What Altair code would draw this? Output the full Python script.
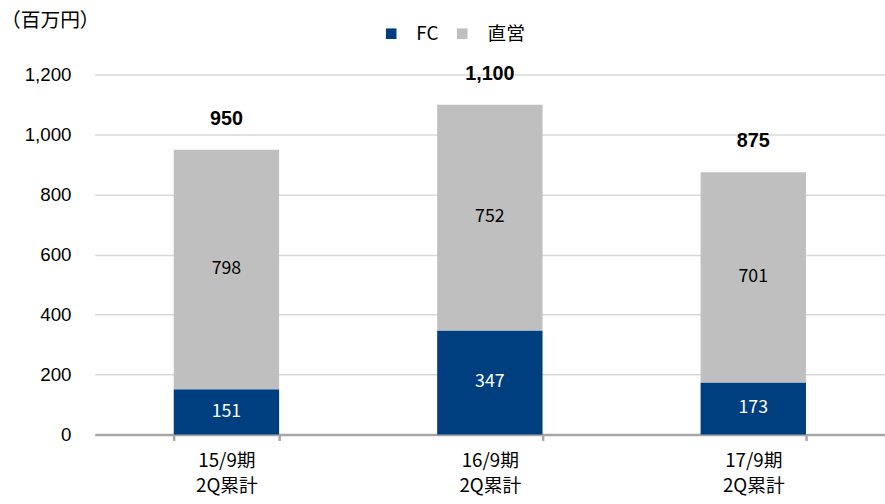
import altair as alt
import pandas as pd

# Half-year cumulative sales by period (millions of yen)
periods = ["15/9期\n2Q累計", "16/9期\n2Q累計", "17/9期\n2Q累計"]
fc_values = [151, 347, 173]
direct_values = [798, 752, 701]
totals = [950, 1100, 875]
series = ["FC", "直営"]
colors = ["#003F7F", "#BFBFBF"]
y_ticks = [0, 200, 400, 600, 800, 1000, 1200]
unit_label = ["（百万円）"]

rows = []
for p, a, b in zip(periods, fc_values, direct_values):
    rows.append({"period": p, "series": series[0], "value": a, "order": 0})
    rows.append({"period": p, "series": series[1], "value": b, "order": 1})
df = pd.DataFrame(rows)
tot = pd.DataFrame({"period": periods, "total": totals})

JP = "Noto Sans CJK JP"
NUM = "Liberation Sans"

x = alt.X(
    "period:N",
    sort=periods,
    title=None,
    scale=alt.Scale(paddingInner=0.6, paddingOuter=0.3),
    axis=alt.Axis(
        labelExpr="isValid(datum.value) ? split(datum.value, '\\n') : ''",
        labelAngle=0,
        labelFont=JP,
        labelFontSize=19,
        labelLineHeight=26,
        labelColor="#000000",
        labelPadding=11,
        domainColor="#A6A6A6",
        domainWidth=2.5,
        tickBand="extent",
        tickColor="#A6A6A6",
        tickWidth=2.5,
        tickSize=6,
    ),
)

base = alt.Chart(df).transform_stack(
    stack="value", groupby=["period"], as_=["v0", "v1"],
    sort=[alt.SortField("order", order="ascending")],
).transform_calculate(mid="(datum.v0 + datum.v1) / 2")

bars = base.mark_bar().encode(
    x=x,
    y=alt.Y(
        "v0:Q",
        title=None,
        scale=alt.Scale(domain=[0, 1200], nice=False),
        axis=alt.Axis(
            values=y_ticks,
            format=",d",
            domain=False,
            ticks=False,
            labelFont=NUM,
            labelFontSize=19,
            labelColor="#000000",
            labelPadding=24,
            gridColor="#D9D9D9",
            gridWidth=1.5,
        ),
    ),
    y2="v1:Q",
    color=alt.Color(
        "series:N",
        scale=alt.Scale(domain=series, range=colors),
        legend=alt.Legend(
            title=None,
            orient="none",
            legendX=291,
            legendY=-51,
            direction="horizontal",
            symbolType="square",
            symbolSize=115,
            symbolStrokeWidth=0,
            labelFont=JP,
            labelFontSize=19,
            labelColor="#000000",
            labelOffset=16,
            columnPadding=14,
        ),
    ),
)

seg_labels = base.mark_text(font=JP, fontSize=18).encode(
    x=alt.X("period:N", sort=periods),
    y=alt.Y("mid:Q"),
    text=alt.Text("value:Q", format=",d"),
    color=alt.Color(
        "series:N",
        scale=alt.Scale(domain=series, range=["#FFFFFF", "#000000"]),
        legend=None,
    ),
)

total_labels = alt.Chart(tot).mark_text(
    font=NUM, fontSize=20, fontWeight="bold", dy=-31, color="#000000"
).encode(
    x=alt.X("period:N", sort=periods),
    y=alt.Y("total:Q"),
    text=alt.Text("total:Q", format=",d"),
)

# Unit caption in the top-left corner, outside the plot area
unit = alt.Chart(pd.DataFrame({"t": unit_label})).mark_text(
    font=JP, fontSize=20, align="left", baseline="middle", color="#000000"
).encode(
    x=alt.value(-95),
    y=alt.value(-54),
    text="t:N",
)

chart = (
    alt.layer(bars, seg_labels, total_labels, unit)
    .resolve_scale(color="independent")
    .properties(
        width=801,
        height=365,
        autosize=alt.AutoSizeParams(type="none"),
        padding={"left": 96, "top": 72, "right": 0, "bottom": 67},
    )
    .configure_view(stroke=None)
)

chart.save("out.html", embed_options={"renderer": "svg", "actions": False})
